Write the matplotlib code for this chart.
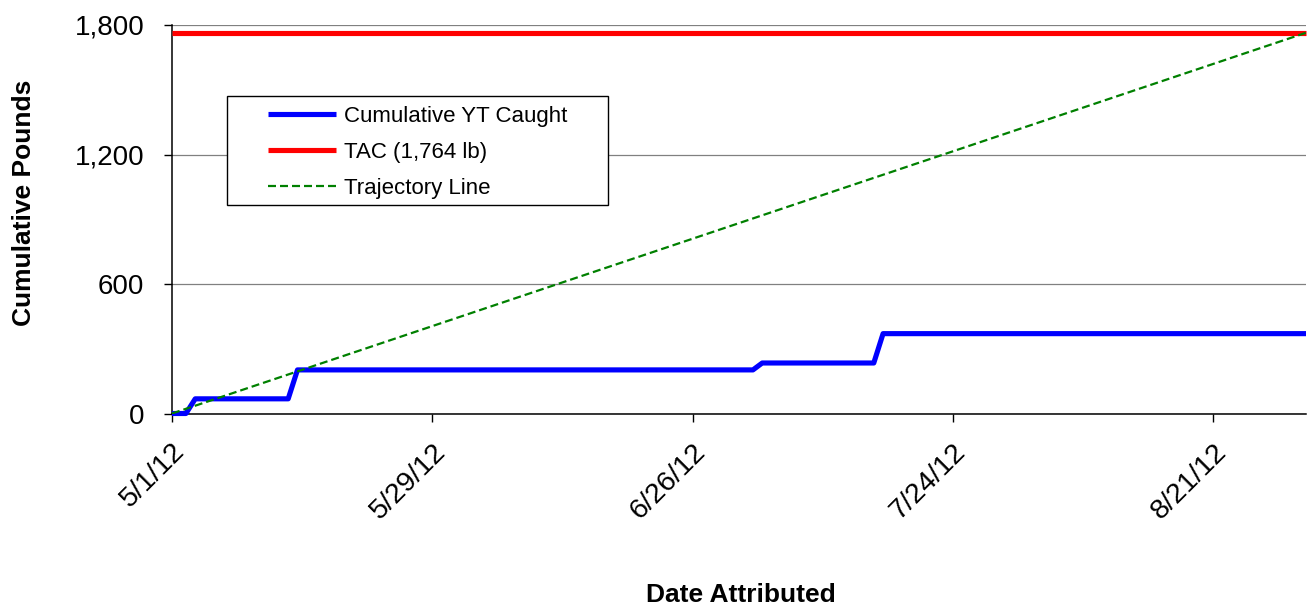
import matplotlib
matplotlib.use('Agg')
import matplotlib.pyplot as plt
import pandas as pd
from matplotlib.patches import Rectangle

plt.rcParams['font.family'] = ['Liberation Sans', 'DejaVu Sans']

# ---- data ----
caught_dates = ['2012-05-01 00:00', '2012-05-02 12:00', '2012-05-03 12:00',
                '2012-05-13 12:00', '2012-05-14 12:00', '2012-07-02 12:00',
                '2012-07-03 12:00', '2012-07-15 12:00', '2012-07-16 12:00',
                '2012-08-31 00:00']
caught_lbs = [0, 0, 68, 68, 202, 202, 234, 234, 370, 370]

tac_dates = ['2012-05-01', '2012-08-31']
tac_lbs = [1764, 1764]

traj_dates = ['2012-05-01', '2012-08-31']
traj_lbs = [0, 1764]

tick_dates = ['2012-05-01', '2012-05-29', '2012-06-26', '2012-07-24', '2012-08-21']
tick_labels = ['5/1/12', '5/29/12', '6/26/12', '7/24/12', '8/21/12']
y_ticks = [0, 600, 1200, 1800]
y_tick_labels = ['0', '600', '1,200', '1,800']

W, H = 1307, 605
fig = plt.figure(figsize=(W / 100, H / 100), dpi=100)
ax = fig.add_axes([172 / W, 1 - 413.5 / H, (1306 - 172) / W, (413.5 - 25) / H])

ax.plot(pd.to_datetime(caught_dates), caught_lbs, color='#0000FF', lw=3.7,
        solid_joinstyle='round', solid_capstyle='butt', clip_on=False, zorder=3,
        label='Cumulative YT Caught')
ax.plot(pd.to_datetime(tac_dates), tac_lbs, color='#FF0000', lw=3.7,
        solid_capstyle='butt', clip_on=False, zorder=3, label='TAC (1,764 lb)')
ax.plot(pd.to_datetime(traj_dates), traj_lbs, color='#008000', lw=1.6,
        dashes=(3.6, 1.8), zorder=3, label='Trajectory Line')

ax.set_xlim(pd.Timestamp('2012-05-01'), pd.Timestamp('2012-08-31'))
ax.set_ylim(0, 1800)
ax.set_xticks(pd.to_datetime(tick_dates))
ax.set_xticklabels(tick_labels, rotation=45, ha='right', va='top',
                   rotation_mode='anchor', fontsize=20.5)
ax.set_yticks(y_ticks)
ax.set_yticklabels(y_tick_labels, fontsize=20)

ax.grid(axis='y', color='#808080', lw=0.9, zorder=0)
ax.set_axisbelow(True)
for s in ['top', 'right']:
    ax.spines[s].set_visible(False)
for s in ['left', 'bottom']:
    ax.spines[s].set_color('black')
    ax.spines[s].set_linewidth(1.1)
ax.tick_params(axis='both', direction='out', length=6, width=1, color='black')
ax.tick_params(axis='y', pad=14)
ax.tick_params(axis='x', pad=12)

# legend box
rect = Rectangle((227 / W, 1 - 205 / H), 381 / W, 109 / H, transform=fig.transFigure,
                 facecolor='white', edgecolor='black', lw=1.0, zorder=4)
fig.patches.append(rect)
leg = fig.legend(loc='upper left', bbox_to_anchor=(268 / W, 1 - 106 / H),
                 frameon=False, fontsize=16, borderpad=0, borderaxespad=0,
                 handlelength=3.05, handletextpad=0.36, labelspacing=0.68)
leg.set_zorder(5)

fig.text(24 / W, 1 - 203 / H, 'Cumulative Pounds', rotation=90, ha='center',
         va='center', fontsize=19, fontweight='bold')
fig.text(741 / W, 1 - 595 / H, 'Date Attributed', ha='center', va='center',
         fontsize=19, fontweight='bold')

fig.savefig('out.png', dpi=100)
